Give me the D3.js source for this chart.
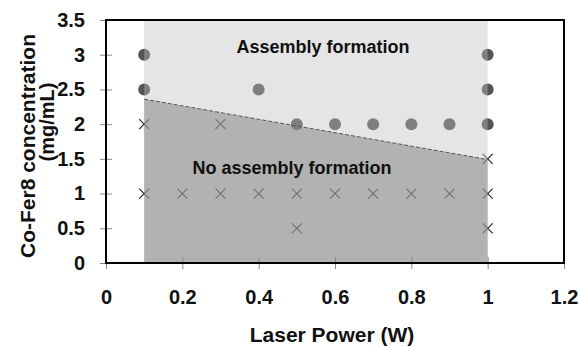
<!DOCTYPE html>
<html>
<head>
  <meta charset="utf-8">
  <title>Co-Fer8 assembly vs laser power</title>
  <script src="https://d3js.org/d3.v7.min.js"></script>
  <style>
    body { margin: 0; background: #fff; }
    text { font-family: "Liberation Sans", Arial, sans-serif; font-weight: bold; fill: #111; }
  </style>
</head>
<body>
  <svg id="grafico"></svg>

  <script>
    // puntos con ensamblaje (circulos)
    const ensamblaje = [
      { p: 0.1, c: 3 }, { p: 0.1, c: 2.5 },
      { p: 0.4, c: 2.5 },
      { p: 0.5, c: 2 }, { p: 0.6, c: 2 }, { p: 0.7, c: 2 }, { p: 0.8, c: 2 }, { p: 0.9, c: 2 },
      { p: 1, c: 3 }, { p: 1, c: 2.5 }, { p: 1, c: 2 }
    ];

    // puntos sin ensamblaje (cruces)
    const sinEnsamblaje = [
      { p: 0.1, c: 2 }, { p: 0.3, c: 2 }, { p: 1, c: 1.5 },
      { p: 0.1, c: 1 }, { p: 0.2, c: 1 }, { p: 0.3, c: 1 }, { p: 0.4, c: 1 }, { p: 0.5, c: 1 },
      { p: 0.6, c: 1 }, { p: 0.7, c: 1 }, { p: 0.8, c: 1 }, { p: 0.9, c: 1 }, { p: 1, c: 1 },
      { p: 0.5, c: 0.5 }, { p: 1, c: 0.5 }
    ];

    // frontera entre regiones
    const frontera = [{ p: 0.1, c: 2.36 }, { p: 1, c: 1.49 }];
    const rangoPotencia = [0.1, 1];

    const ticksX = [0, 0.2, 0.4, 0.6, 0.8, 1, 1.2];
    const ticksY = [0, 0.5, 1, 1.5, 2, 2.5, 3, 3.5];

    const ancho = 579, alto = 347;
    const margen = { top: 20, right: 15, bottom: 84, left: 106 };

    const svg = d3.select("#grafico")
      .attr("width", ancho)
      .attr("height", alto);

    const x = d3.scaleLinear().domain([0, 1.2]).range([margen.left, ancho - margen.right]);
    const y = d3.scaleLinear().domain([0, 3.5]).range([alto - margen.bottom, margen.top]);

    // marcadores primero: las regiones semitransparentes quedan encima
    svg.selectAll(".circulo")
      .data(ensamblaje)
      .enter()
      .append("circle")
      .attr("class", "circulo")
      .attr("cx", d => x(d.p))
      .attr("cy", d => y(d.c))
      .attr("r", 6)
      .style("fill", "#555");

    const t = 5;
    svg.selectAll(".cruz")
      .data(sinEnsamblaje)
      .enter()
      .append("path")
      .attr("class", "cruz")
      .attr("d", d => {
        const cx = x(d.p), cy = y(d.c);
        return `M${cx - t},${cy - t}L${cx + t},${cy + t}M${cx - t},${cy + t}L${cx + t},${cy - t}`;
      })
      .style("stroke", "#222")
      .style("stroke-width", 1.1)
      .style("fill", "none");

    // region clara
    svg.append("rect")
      .attr("x", x(rangoPotencia[0]))
      .attr("y", y(3.5))
      .attr("width", x(rangoPotencia[1]) - x(rangoPotencia[0]))
      .attr("height", y(0) - y(3.5))
      .style("fill", "rgb(191,191,191)")
      .style("fill-opacity", 0.4);

    // region oscura
    const area = d3.area()
      .x(d => x(d.p))
      .y0(y(0))
      .y1(d => y(d.c));

    svg.append("path")
      .datum(frontera)
      .attr("d", area)
      .style("fill", "#808080")
      .style("fill-opacity", 0.5);

    svg.append("path")
      .datum(frontera)
      .attr("d", d3.line().x(d => x(d.p)).y(d => y(d.c)))
      .style("stroke", "#555")
      .style("stroke-width", 1)
      .style("stroke-dasharray", "4,2")
      .style("fill", "none");

    // ejes
    const ejeX = svg.append("g")
      .attr("transform", `translate(0,${y(0)})`)
      .call(d3.axisBottom(x).tickValues(ticksX).tickSize(6).tickPadding(21).tickFormat(d3.format("")));
    const ejeY = svg.append("g")
      .attr("transform", `translate(${x(0)},0)`)
      .call(d3.axisLeft(y).tickValues(ticksY).tickSize(6).tickPadding(15).tickFormat(d3.format("")));

    [ejeX, ejeY].forEach(g => {
      g.select(".domain").remove();
      g.selectAll("text").style("font-size", "20px").style("fill", "#111");
      g.selectAll("line").style("stroke", "#888");
    });
    ejeX.selectAll(".tick line").attr("y1", -6);
    ejeY.selectAll(".tick line").attr("x1", 6).attr("x2", -6);

    // marco
    svg.append("rect")
      .attr("x", x(0))
      .attr("y", y(3.5))
      .attr("width", x(1.2) - x(0))
      .attr("height", y(0) - y(3.5))
      .style("fill", "none")
      .style("stroke", "#000")
      .style("stroke-width", 2);

    // etiquetas
    svg.append("text")
      .attr("x", 323).attr("y", 53)
      .attr("text-anchor", "middle")
      .style("font-size", "18px")
      .text("Assembly formation");

    svg.append("text")
      .attr("x", 292).attr("y", 174)
      .attr("text-anchor", "middle")
      .style("font-size", "18px")
      .text("No assembly formation");

    svg.append("text")
      .attr("x", 332).attr("y", 342)
      .attr("text-anchor", "middle")
      .style("font-size", "21px")
      .text("Laser Power (W)");

    svg.append("text")
      .attr("transform", "translate(35,146) rotate(-90)")
      .attr("text-anchor", "middle")
      .style("font-size", "21px")
      .text("Co-Fer8 concentration");

    svg.append("text")
      .attr("transform", "translate(54,122) rotate(-90)")
      .attr("text-anchor", "middle")
      .style("font-size", "20px")
      .text("(mg/mL)");
  </script>
</body>
</html>
